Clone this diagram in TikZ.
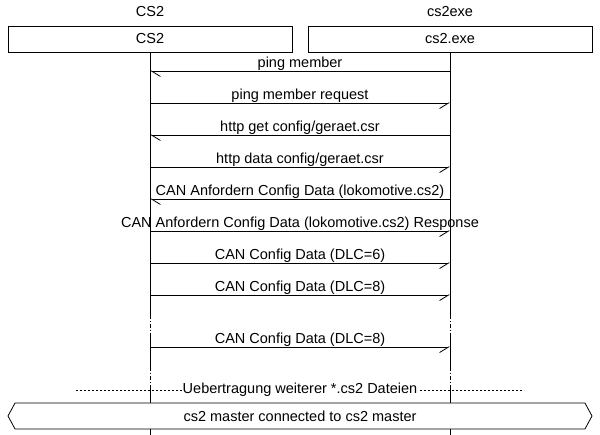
\documentclass[tikz,border=0pt]{standalone}
\usepackage{fontspec}
\setmainfont{Liberation Sans}
\usetikzlibrary{arrows.meta,shapes.symbols}

\tikzset{
  every node/.style={font=\fontsize{14.5}{16}\selectfont},
  entity/.style={draw, minimum width=284pt, minimum height=26pt, inner sep=0pt},
  msglabel/.style={anchor=base, inner sep=0pt},
  msg to cs/.style={-{Straight Barb[harpoon, length=9pt, width=11pt]}},
  msg to exe/.style={-{Straight Barb[harpoon, swap, length=9pt, width=11pt]}},
  gapline/.style={dash pattern=on 4pt off 2pt on 1pt off 2pt},
  divider/.style={dash pattern=on 2pt off 2pt},
  bcast/.style={draw, fill=white, signal, signal to=west and east,
    signal pointer angle=123, minimum width=584pt, minimum height=26pt, inner sep=0pt}
}

\begin{document}
\begin{tikzpicture}[x=1pt, y=-1pt, line width=0.8pt]
\useasboundingbox (0,0) rectangle (600,435);

% Entities
\node (csname) at (150,12) {CS2};
\node (exename) at (450,12) {cs2exe};
\node[entity] (cs) at (150,39) {CS2};
\node[entity] (exe) at (450,39) {cs2.exe};

% Lifelines
\foreach \ent in {cs, exe} {
  \draw (\ent.south) -- (\ent |- 0,315);
  \draw[gapline] (\ent |- 0,315) -- (\ent |- 0,333);
  \draw (\ent |- 0,333) -- (\ent |- 0,367);
  \draw[gapline] (\ent |- 0,367) -- (\ent |- 0,387);
  \draw (\ent |- 0,387) -- (\ent |- 0,435);
}

% Messages
\foreach \y/\src/\dst/\txt [count=\i] in {
  71/exe/cs/{ping member},
  103/cs/exe/{ping member request},
  135/exe/cs/{http get config/geraet.csr},
  167/cs/exe/{http data config/geraet.csr},
  199/exe/cs/{CAN Anfordern Config Data (lokomotive.cs2)},
  231/cs/exe/{CAN Anfordern Config Data (lokomotive.cs2) Response},
  263/cs/exe/{CAN Config Data (DLC=6)},
  295/cs/exe/{CAN Config Data (DLC=8)},
  347/cs/exe/{CAN Config Data (DLC=8)}
} {
  \coordinate (cs\i) at (150,\y);
  \coordinate (exe\i) at (450,\y);
  \draw[msg to \dst] (\src\i) -- (\dst\i);
  \node[msglabel] (txt\i) at (300,\y-3) {\txt};
}

% Divider
\coordinate (divl) at (76,390);
\coordinate (divr) at (524,390);
\draw[divider] (divl) -- (divr);
\node[fill=white, inner sep=1pt] (divtxt) at (300,390) {Uebertragung weiterer *.cs2 Dateien};

% Broadcast
\node[bcast] (master) at (300,416) {cs2 master connected to cs2 master};
\end{tikzpicture}
\end{document}
